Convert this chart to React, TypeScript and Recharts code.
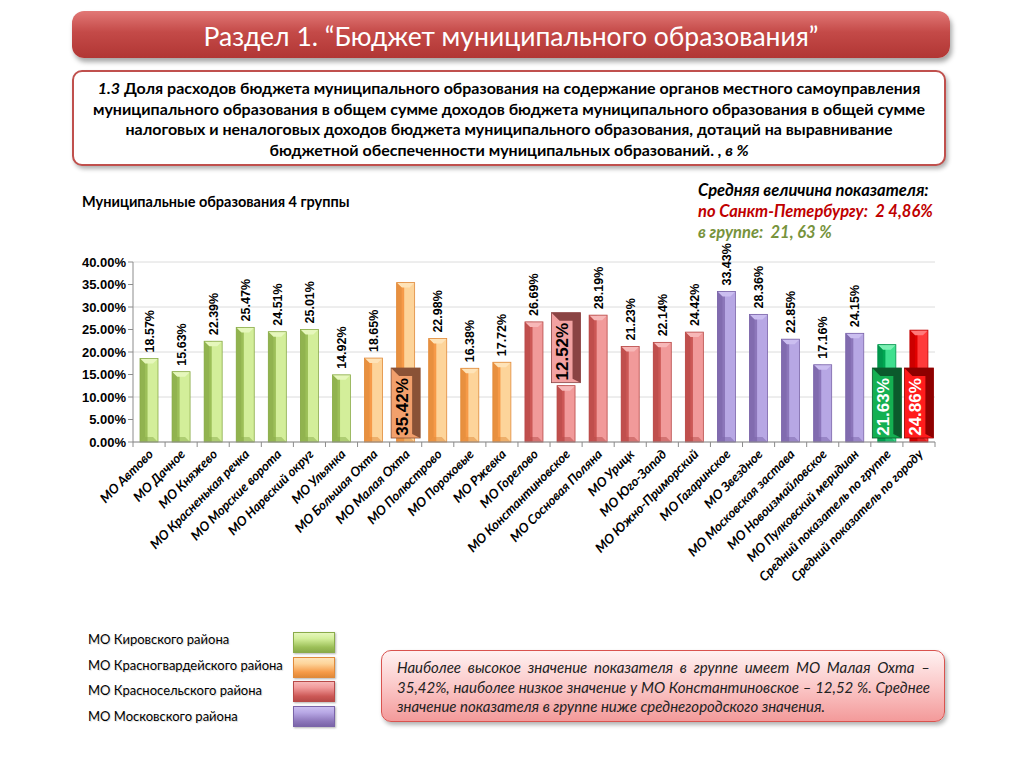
import React from "react";
import { BarChart, Bar, XAxis, YAxis, CartesianGrid, LabelList } from "recharts";

const categories = [
  "МО Автово",
  "МО Дачное",
  "МО Княжево",
  "МО Красненькая речка",
  "МО Морские ворота",
  "МО Нарвский округ",
  "МО Ульянка",
  "МО Большая Охта",
  "МО Малая Охта",
  "МО Полюстрово",
  "МО Пороховые",
  "МО Ржевка",
  "МО Горелово",
  "МО Константиновское",
  "МО Сосновая Поляна",
  "МО Урицк",
  "МО Юго-Запад",
  "МО Южно-Приморский",
  "МО Гагаринское",
  "МО Звездное",
  "МО Московская застава",
  "МО Новоизмайловское",
  "МО Пулковский меридиан",
  "Средний показатель по группе",
  "Средний показатель по городу",
];

const shares = [
  18.57, 15.63, 22.39, 25.47, 24.51, 25.01, 14.92, 18.65, 35.42, 22.98, 16.38, 17.72, 26.69, 12.52,
  28.19, 21.23, 22.14, 24.42, 33.43, 28.36, 22.85, 17.16, 24.15, 21.63, 24.86,
];

const districts = [
  "МО Кировского района",
  "МО Красногвардейского района",
  "МО Красносельского района",
  "МО Московского района",
];
const districtCounts = [7, 5, 6, 5];

const yTicks = [0, 5, 10, 15, 20, 25, 30, 35, 40];

// kind 0..3 = district, 4 = group average, 5 = city average
const kinds: number[] = [];
districtCounts.forEach((n, d) => {
  for (let i = 0; i < n; i++) kinds.push(d);
});
kinds.push(4, 5);

const rows = categories.map((name, i) => ({ name, value: shares[i], kind: kinds[i] }));

const moCount = districtCounts.reduce((a, b) => a + b, 0);
const moShares = shares.slice(0, moCount);
const maxIdx = moShares.indexOf(Math.max(...moShares));
const minIdx = moShares.indexOf(Math.min(...moShares));

const palette = [
  { dark: "#9cbf58", light: "#d3ee9a", top: "#e6f7bc", edge: "#8aab4a" },
  { dark: "#f69a48", light: "#fdd49a", top: "#fee3b8", edge: "#e08a3a" },
  { dark: "#cc5856", light: "#f19a9a", top: "#f7b8b8", edge: "#b84a48" },
  { dark: "#8c76ba", light: "#b7a7e4", top: "#cbbef0", edge: "#7a64a8" },
  { dark: "#00a651", light: "#3ee08e", top: "#7cf0b4", edge: "#00904a" },
  { dark: "#e00000", light: "#ff3b3b", top: "#ff7a7a", edge: "#c00000" },
];

const boxColors: Record<string, { light: string; dark: string; text: string }> = {
  max: { light: "#f2a06c", dark: "#8a5236", text: "#000" },
  min: { light: "#f2a2a2", dark: "#8a4343", text: "#000" },
  group: { light: "#14b052", dark: "#0b5a2c", text: "#fff" },
  city: { light: "#ff1c1c", dark: "#8e0000", text: "#fff" },
};

const fmt = (v: number) => `${v.toFixed(2)}%`;

const BevelBar = (props: any) => {
  const { x, y, width, height, payload } = props;
  if (!height || height <= 0) return null;
  const c = palette[payload.kind];
  const b = Math.min(5, height / 2);
  const split = x + width * 0.42;
  return (
    <g>
      <rect x={x} y={y} width={width} height={height} fill={c.light} />
      <rect x={x} y={y} width={split - x} height={height} fill={c.dark} />
      <polygon
        points={`${x},${y} ${x + width},${y} ${x + width - b},${y + b} ${x + b},${y + b}`}
        fill={c.top}
      />
      <polygon
        points={`${x},${y} ${x + b},${y + b} ${x + b},${y + height - b} ${x},${y + height}`}
        fill={c.edge}
        opacity={0.6}
      />
      <polygon
        points={`${x},${y + height} ${x + b},${y + height - b} ${x + width - b},${y + height - b} ${x + width},${y + height}`}
        fill={c.edge}
        opacity={0.5}
      />
      <rect x={x} y={y} width={width} height={height} fill="none" stroke={c.edge} strokeWidth={0.8} />
    </g>
  );
};

const ValueLabel = (props: any) => {
  const { x, y, width, height, value, index } = props;
  const cx = x + width / 2;
  const kind = rows[index].kind;
  let box: string | null = null;
  if (index === maxIdx) box = "max";
  else if (index === minIdx) box = "min";
  else if (kind === 4) box = "group";
  else if (kind === 5) box = "city";

  if (!box) {
    return (
      <text
        transform={`translate(${cx + 4.5},${y - 6}) rotate(-90)`}
        fontFamily="Liberation Sans, Arial, sans-serif"
        fontSize={12.5}
        fontWeight="bold"
        fill="#000"
      >
        {fmt(value)}
      </text>
    );
  }
  const bw = 29;
  const bh = 70;
  const bottom = y + height;
  const top = box === "min" ? y - 3 - bh : bottom - 4 - bh;
  const left = cx - bw / 2;
  const c = boxColors[box];
  const d = 8;
  return (
    <g>
      <rect x={left} y={top} width={bw} height={bh} fill={c.light} stroke={c.dark} strokeWidth={0.8} />
      <polygon
        points={`${left},${top} ${left + bw},${top} ${left + bw},${top + bh} ${left + bw - d},${top + bh - d / 2} ${left + bw - d},${top + d} ${left + d},${top + d}`}
        fill={c.dark}
      />
      <text
        transform={`translate(${cx + 2},${top + bh / 2 + 4}) rotate(-90)`}
        textAnchor="middle"
        fontFamily="Liberation Sans, Arial, sans-serif"
        fontSize={17}
        fontWeight="bold"
        fill={c.text}
      >
        {fmt(value)}
      </text>
    </g>
  );
};

const CategoryTick = (props: any) => {
  const { x, y, payload, index } = props;
  const off = payload && payload.offset ? payload.offset : 16;
  return (
    <g>
      <line x1={x - off} y1={y} x2={x - off} y2={y + 5} stroke="#8c8c8c" />
      {index === categories.length - 1 && (
        <line x1={x + off} y1={y} x2={x + off} y2={y + 5} stroke="#8c8c8c" />
      )}
      <text
        transform={`translate(${x + 5},${y + 13}) rotate(-45)`}
        textAnchor="end"
        fontFamily="Lato, 'Open Sans', sans-serif"
        fontStyle="italic"
        fontWeight="bold"
        fontSize={13}
        fill="#000"
      >
        {payload.value}
      </text>
    </g>
  );
};

const legendSwatch = (i: number) => {
  const c = palette[i];
  return {
    position: "absolute" as const,
    width: 40,
    height: 19,
    background: `linear-gradient(180deg, ${c.top} 0%, ${c.light} 30%, ${c.dark} 75%, ${c.edge} 100%)`,
    border: `1px solid ${c.edge}`,
    boxShadow: "1px 1px 2px rgba(0,0,0,0.3)",
  };
};

export default function App() {
  return (
    <div
      style={{
        position: "absolute",
        left: 0,
        top: 0,
        width: 1024,
        height: 768,
        background: "#fff",
        overflow: "hidden",
        fontFamily: "Lato, 'Open Sans', sans-serif",
      }}
    >
      {/* header */}
      <div
        style={{
          position: "absolute",
          left: 72,
          top: 11,
          width: 878,
          height: 47,
          borderRadius: 12,
          background: "linear-gradient(180deg, #e27876 0%, #c44a48 45%, #b13634 100%)",
          boxShadow: "2px 4px 5px rgba(0,0,0,0.35)",
          color: "#fff",
          fontSize: 26.5,
          lineHeight: "50px",
          textAlign: "center",
        }}
      >
        Раздел 1. “Бюджет муниципального образования”
      </div>

      {/* title box */}
      <div
        style={{
          position: "absolute",
          left: 72,
          top: 70,
          width: 874,
          height: 96,
          border: "2px solid #c0504d",
          borderRadius: 10,
          background: "#fff",
          boxShadow: "2px 3px 4px rgba(0,0,0,0.3)",
          boxSizing: "border-box",
          fontSize: 16,
          fontWeight: "bold",
          lineHeight: "20.5px",
          textAlign: "center",
          paddingTop: 6,
          color: "#000",
          whiteSpace: "nowrap",
        }}
      >
        <i>1.3</i> Доля расходов бюджета муниципального образования на содержание органов местного самоуправления
        <br />
        муниципального образования в общем сумме доходов бюджета муниципального образования в общей сумме
        <br />
        налоговых и неналоговых доходов бюджета муниципального образования, дотаций на выравнивание
        <br />
        бюджетной обеспеченности муниципальных образований. <i>, в %</i>
      </div>

      <div
        style={{
          position: "absolute",
          left: 82,
          top: 193,
          fontSize: 14.5,
          fontWeight: "bold",
          color: "#000",
        }}
      >
        Муниципальные образования 4 группы
      </div>

      <div
        style={{
          position: "absolute",
          left: 698,
          top: 180,
          fontSize: 16.5,
          fontWeight: "bold",
          fontStyle: "italic",
          lineHeight: "21px",
        }}
      >
        <div style={{ color: "#000" }}>Средняя величина показателя:</div>
        <div style={{ color: "#c00000" }}>по Санкт-Петербургу:&nbsp; 2 4,86%</div>
        <div style={{ color: "#77933c" }}>в группе:&nbsp; 21, 63 %</div>
      </div>

      <div style={{ position: "absolute", left: 0, top: 220 }}>
        <BarChart
          width={960}
          height={410}
          data={rows}
          margin={{ top: 42, right: 25, bottom: 38, left: 0 }}
          barSize={18}
        >
          <CartesianGrid vertical={false} stroke="#dcdcdc" />
          <XAxis
            dataKey="name"
            interval={0}
            height={150}
            tickSize={0}
            tickMargin={0}
            tick={<CategoryTick />}
            stroke="#8c8c8c"
          />
          <YAxis
            width={133}
            domain={[0, 40]}
            ticks={yTicks}
            tickSize={5}
            tickFormatter={(v: number) => fmt(v)}
            stroke="#8c8c8c"
            tick={{ fill: "#000", fontSize: 13, fontWeight: "bold", fontFamily: "Liberation Sans, Arial, sans-serif" }}
          />
          <Bar dataKey="value" shape={<BevelBar />} isAnimationActive={false}>
            <LabelList dataKey="value" content={<ValueLabel />} />
          </Bar>
        </BarChart>
      </div>

      {/* legend */}
      {districts.map((d, i) => (
        <React.Fragment key={d}>
          <div
            style={{
              position: "absolute",
              left: 88,
              top: 631 + i * 25.5,
              fontSize: 13,
              color: "#000",
              textShadow: "1px 1px 1px rgba(0,0,0,0.15)",
            }}
          >
            {d}
          </div>
          <div style={{ ...legendSwatch(i), left: 293, top: 632 + i * 24.5 }} />
        </React.Fragment>
      ))}

      {/* note */}
      <div
        style={{
          position: "absolute",
          left: 381,
          top: 650,
          width: 564,
          height: 72,
          boxSizing: "border-box",
          border: "1.5px solid #d9534f",
          borderRadius: 10,
          background: "linear-gradient(180deg, #fff2f2 0%, #fbc8c8 50%, #f39a9a 100%)",
          boxShadow: "2px 3px 4px rgba(0,0,0,0.3)",
          padding: "7px 14px 0 15px",
          fontSize: 15,
          fontStyle: "italic",
          lineHeight: "19.5px",
          textAlign: "justify",
          color: "#222",
        }}
      >
        Наиболее высокое значение показателя в группе имеет МО Малая Охта – 35,42%, наиболее низкое значение у МО
        Константиновское – 12,52 %. Среднее значение показателя в группе ниже среднегородского значения.
      </div>
    </div>
  );
}
